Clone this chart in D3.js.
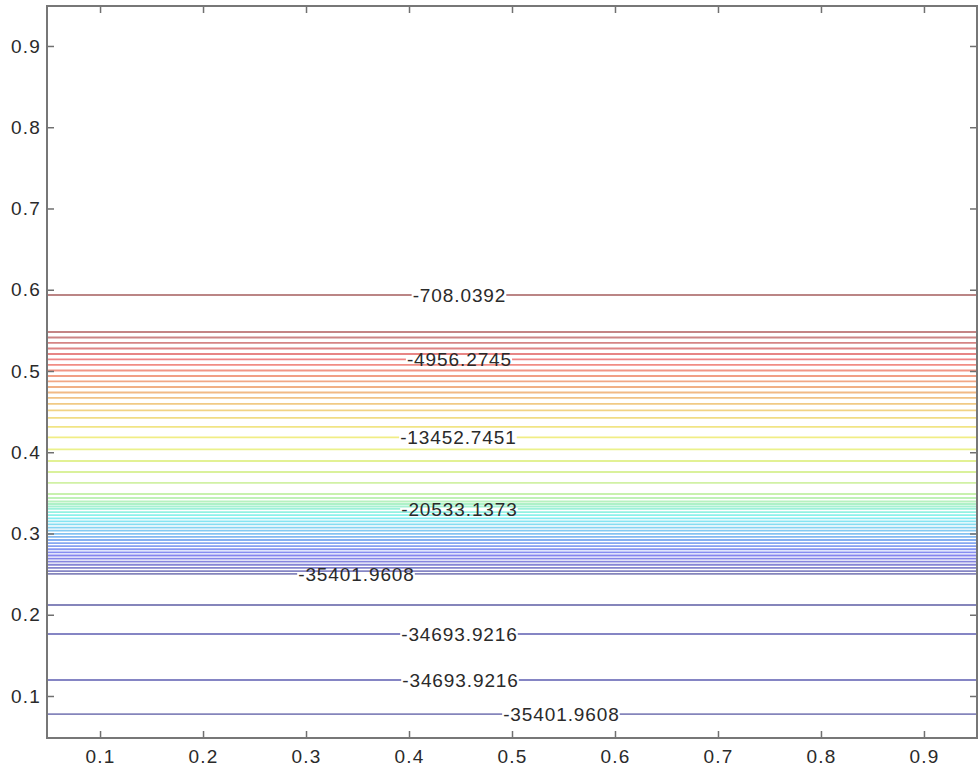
<!DOCTYPE html>
<meta charset="utf-8">
<style>
body { margin: 0; background: #fff; }
.tick text { font-family: "Liberation Sans", Arial, sans-serif; font-size: 19px; fill: #2a2a2a; letter-spacing: 1.2px; }
.tick line { stroke: #707070; stroke-width: 1.5px; }
.clabel { font-family: "Liberation Sans", Arial, sans-serif; font-size: 19px; fill: #2a2a2a; letter-spacing: 0.9px; }
</style>
<body>
<script src="https://d3js.org/d3.v7.min.js"></script>
<script>

var width = 980,
    height = 777;

// tick values
var xTicks = [0.1, 0.2, 0.3, 0.4, 0.5, 0.6, 0.7, 0.8, 0.9];
var yTicks = [0.1, 0.2, 0.3, 0.4, 0.5, 0.6, 0.7, 0.8, 0.9];

// contour levels (k = 1..50)
var levels = [
  -708.0392, -1416.0784, -2124.1176, -2832.1569, -3540.1961,
  -4248.2353, -4956.2745, -5664.3137, -6372.3529, -7080.3922,
  -7788.4314, -8496.4706, -9204.5098, -9912.5490, -10620.5882,
  -11328.6275, -12036.6667, -12744.7059, -13452.7451, -14160.7843,
  -14868.8235, -15576.8627, -16284.9020, -16992.9412, -17700.9804,
  -18409.0196, -19117.0588, -19825.0980, -20533.1373, -21241.1765,
  -21949.2157, -22657.2549, -23365.2941, -24073.3333, -24781.3725,
  -25489.4118, -26197.4510, -26905.4902, -27613.5294, -28321.5686,
  -29029.6078, -29737.6471, -30445.6863, -31153.7255, -31861.7647,
  -32569.8039, -33277.8431, -33985.8824, -34693.9216, -35401.9608
];

// y position of each contour line (first 50 follow levels, then the lower ones)
var lineY = [
  0.5935, 0.5480, 0.5412, 0.5345, 0.5277, 0.5209, 0.5142, 0.5074, 0.5006, 0.4938,
  0.4871, 0.4803, 0.4735, 0.4668, 0.4594, 0.4514, 0.4422, 0.4311, 0.4182, 0.4034,
  0.3892, 0.3757, 0.3622, 0.3486, 0.3437, 0.3394, 0.3363, 0.3332, 0.3302, 0.3264,
  0.3225, 0.3187, 0.3149, 0.3111, 0.3073, 0.3035, 0.2996, 0.2958, 0.2920, 0.2882,
  0.2844, 0.2806, 0.2767, 0.2729, 0.2691, 0.2653, 0.2615, 0.2577, 0.2538, 0.2502,
  0.2120, 0.1763, 0.1197, 0.0778
];
var extraLevels = [-35401.9608, -34693.9216, -34693.9216, -35401.9608];
var lineLevel = levels.concat(extraLevels);

// inline labels: which line, and x where centred
var labelLines = [0, 6, 18, 28, 49, 51, 52, 53];
var labelX = [0.449, 0.449, 0.448, 0.449, 0.349, 0.449, 0.450, 0.548];

var margin = {left: 47, right: 3, top: 6, bottom: 39};

var x = d3.scaleLinear()
    .domain([0.0485, 0.9515])
    .range([margin.left, width - margin.right]);

var y = d3.scaleLinear()
    .domain([0.0483, 0.9492])
    .range([height - margin.bottom, margin.top]);

// washed-out jet colormap
function jet(t) {
  function c(v) { return Math.max(0, Math.min(1, v)); }
  var r = c(1.5 - Math.abs(4 * t - 3)),
      g = c(1.5 - Math.abs(4 * t - 2)),
      b = c(1.5 - Math.abs(4 * t - 1));
  var col = d3.rgb(r * 255, g * 255, b * 255);
  return d3.interpolateRgb(col, "#e6e6e6")(0.58);
}

var colour = d3.scaleSequential(jet)
    .domain(d3.extent(levels));

var svg = d3.select("body").append("svg")
    .attr("width", width)
    .attr("height", height);

var line = d3.line()
    .x(function(d) { return x(d[0]); })
    .y(function(d) { return y(d[1]); });

var g = svg.append("g");

// labels first so we can measure them
var labels = svg.append("g");
var gaps = {};
labelLines.forEach(function(li, i) {
  var t = labels.append("text")
      .attr("class", "clabel")
      .attr("text-anchor", "middle")
      .attr("x", x(labelX[i]))
      .attr("y", y(lineY[li]))
      .attr("dy", "0.36em")
      .text(lineLevel[li].toFixed(4));
  var w = t.node().getComputedTextLength();
  gaps[li] = [x.invert(x(labelX[i]) - w / 2 - 1), x.invert(x(labelX[i]) + w / 2)];
});

lineY.forEach(function(yy, i) {
  var x0 = x.domain()[0], x1 = x.domain()[1];
  var segs = gaps[i] ? [[x0, gaps[i][0]], [gaps[i][1], x1]] : [[x0, x1]];
  segs.forEach(function(s) {
    g.append("path")
      .attr("d", line([[s[0], yy], [s[1], yy]]))
      .attr("fill", "none")
      .attr("stroke", colour(lineLevel[i]))
      .attr("stroke-width", 1.8);
  });
});

labels.raise();

// axes with inward ticks on all four sides
var tk = 7;
svg.append("g")
    .attr("transform", "translate(0," + (height - margin.bottom) + ")")
    .call(d3.axisBottom(x).tickValues(xTicks).tickSize(-tk).tickPadding(12).tickFormat(d3.format(".1f")));
svg.append("g")
    .attr("transform", "translate(0," + margin.top + ")")
    .call(d3.axisTop(x).tickValues(xTicks).tickSize(-tk).tickFormat(""));
svg.append("g")
    .attr("transform", "translate(" + margin.left + ",0)")
    .call(d3.axisLeft(y).tickValues(yTicks).tickSize(-tk).tickPadding(6).tickFormat(d3.format(".1f")));
svg.append("g")
    .attr("transform", "translate(" + (width - margin.right) + ",0)")
    .call(d3.axisRight(y).tickValues(yTicks).tickSize(-tk).tickFormat(""));

svg.selectAll(".domain").remove();

svg.append("rect")
    .attr("x", margin.left)
    .attr("y", margin.top)
    .attr("width", width - margin.left - margin.right)
    .attr("height", height - margin.top - margin.bottom)
    .attr("fill", "none")
    .attr("stroke", "#777")
    .attr("stroke-width", 2);

</script>
